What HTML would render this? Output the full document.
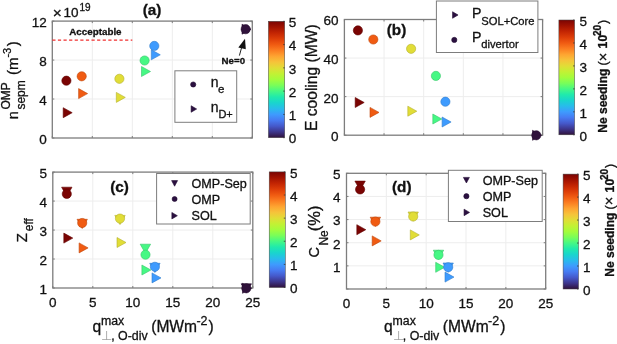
<!DOCTYPE html>
<html><head><meta charset="utf-8"><style>
html,body{margin:0;padding:0;background:#fff;width:617px;height:344px;overflow:hidden}
svg{display:block;will-change:transform}
text{font-family:"Liberation Sans", sans-serif;stroke:#111;stroke-width:0.3px}
</style></head><body>
<svg width="617" height="344" viewBox="0 0 617 344">
<rect width="617" height="344" fill="#fff"/>
<line x1="92.30" y1="21.1" x2="92.30" y2="138.0" stroke="#ededed" stroke-width="1"/>
<line x1="132.30" y1="21.1" x2="132.30" y2="138.0" stroke="#ededed" stroke-width="1"/>
<line x1="172.30" y1="21.1" x2="172.30" y2="138.0" stroke="#ededed" stroke-width="1"/>
<line x1="212.30" y1="21.1" x2="212.30" y2="138.0" stroke="#ededed" stroke-width="1"/>
<line x1="52.3" y1="99.03" x2="252.3" y2="99.03" stroke="#ededed" stroke-width="1"/>
<line x1="52.3" y1="60.07" x2="252.3" y2="60.07" stroke="#ededed" stroke-width="1"/>
<rect x="52.3" y="21.1" width="200.00" height="116.90" fill="none" stroke="#7d7d7d" stroke-width="1.3"/>
<line x1="52.30" y1="138.0" x2="52.30" y2="136.0" stroke="#7d7d7d" stroke-width="1"/>
<line x1="52.30" y1="21.1" x2="52.30" y2="23.1" stroke="#7d7d7d" stroke-width="1"/>
<line x1="92.30" y1="138.0" x2="92.30" y2="136.0" stroke="#7d7d7d" stroke-width="1"/>
<line x1="92.30" y1="21.1" x2="92.30" y2="23.1" stroke="#7d7d7d" stroke-width="1"/>
<line x1="132.30" y1="138.0" x2="132.30" y2="136.0" stroke="#7d7d7d" stroke-width="1"/>
<line x1="132.30" y1="21.1" x2="132.30" y2="23.1" stroke="#7d7d7d" stroke-width="1"/>
<line x1="172.30" y1="138.0" x2="172.30" y2="136.0" stroke="#7d7d7d" stroke-width="1"/>
<line x1="172.30" y1="21.1" x2="172.30" y2="23.1" stroke="#7d7d7d" stroke-width="1"/>
<line x1="212.30" y1="138.0" x2="212.30" y2="136.0" stroke="#7d7d7d" stroke-width="1"/>
<line x1="212.30" y1="21.1" x2="212.30" y2="23.1" stroke="#7d7d7d" stroke-width="1"/>
<line x1="252.30" y1="138.0" x2="252.30" y2="136.0" stroke="#7d7d7d" stroke-width="1"/>
<line x1="252.30" y1="21.1" x2="252.30" y2="23.1" stroke="#7d7d7d" stroke-width="1"/>
<line x1="52.3" y1="138.00" x2="54.3" y2="138.00" stroke="#7d7d7d" stroke-width="1"/>
<line x1="252.3" y1="138.00" x2="250.3" y2="138.00" stroke="#7d7d7d" stroke-width="1"/>
<line x1="52.3" y1="99.03" x2="54.3" y2="99.03" stroke="#7d7d7d" stroke-width="1"/>
<line x1="252.3" y1="99.03" x2="250.3" y2="99.03" stroke="#7d7d7d" stroke-width="1"/>
<line x1="52.3" y1="60.07" x2="54.3" y2="60.07" stroke="#7d7d7d" stroke-width="1"/>
<line x1="252.3" y1="60.07" x2="250.3" y2="60.07" stroke="#7d7d7d" stroke-width="1"/>
<line x1="52.3" y1="21.10" x2="54.3" y2="21.10" stroke="#7d7d7d" stroke-width="1"/>
<line x1="252.3" y1="21.10" x2="250.3" y2="21.10" stroke="#7d7d7d" stroke-width="1"/>
<text x="46.80" y="143.90" font-size="13.5" text-anchor="end" font-weight="normal" fill="#111111" >0</text>
<text x="46.80" y="104.93" font-size="13.5" text-anchor="end" font-weight="normal" fill="#111111" >4</text>
<text x="46.80" y="65.97" font-size="13.5" text-anchor="end" font-weight="normal" fill="#111111" >8</text>
<text x="46.80" y="27.00" font-size="13.5" text-anchor="end" font-weight="normal" fill="#111111" >12</text>
<line x1="52.3" y1="40.1" x2="132.3" y2="40.1" stroke="#f03030" stroke-width="1.1" stroke-dasharray="3.2,2.4"/>
<text x="69.30" y="34.60" font-size="9.8" text-anchor="start" font-weight="bold" fill="#111111" >Acceptable</text>
<polygon points="63.20,107.70 72.20,112.70 63.20,117.70" fill="#7a0403" stroke="#610302" stroke-width="0.6" stroke-linejoin="miter"/>
<polygon points="78.60,88.60 87.60,93.60 78.60,98.60" fill="#f05b12" stroke="#c0480e" stroke-width="0.6" stroke-linejoin="miter"/>
<polygon points="116.30,92.40 125.30,97.40 116.30,102.40" fill="#e1dd37" stroke="#b4b02c" stroke-width="0.6" stroke-linejoin="miter"/>
<polygon points="141.50,66.50 150.50,71.50 141.50,76.50" fill="#46f884" stroke="#38c669" stroke-width="0.6" stroke-linejoin="miter"/>
<polygon points="151.30,49.80 160.30,54.80 151.30,59.80" fill="#3e9bfe" stroke="#317ccb" stroke-width="0.6" stroke-linejoin="miter"/>
<polygon points="242.00,24.20 251.00,29.20 242.00,34.20" fill="#30123b" stroke="#260e2f" stroke-width="0.6" stroke-linejoin="miter"/>
<circle cx="66.40" cy="80.70" r="4.6" fill="#7a0403" stroke="#610302" stroke-width="0.6"/>
<circle cx="81.70" cy="76.30" r="4.6" fill="#f05b12" stroke="#c0480e" stroke-width="0.6"/>
<circle cx="119.40" cy="78.80" r="4.6" fill="#e1dd37" stroke="#b4b02c" stroke-width="0.6"/>
<circle cx="144.60" cy="60.50" r="4.6" fill="#46f884" stroke="#38c669" stroke-width="0.6"/>
<circle cx="154.30" cy="45.90" r="4.6" fill="#3e9bfe" stroke="#317ccb" stroke-width="0.6"/>
<circle cx="245.70" cy="29.20" r="4.6" fill="#30123b" stroke="#260e2f" stroke-width="0.6"/>
<line x1="239.4" y1="55.6" x2="242.3" y2="45" stroke="#222" stroke-width="1"/>
<polygon points="238.3,47.4 245,38.7 245.8,49.2" fill="#111"/>
<text x="221.60" y="64.20" font-size="9.7" text-anchor="start" font-weight="bold" fill="#111111" >Ne=0</text>
<rect x="174.9" y="70.8" width="61.80" height="51.50" fill="#fff" stroke="#7d7d7d" stroke-width="1.0"/>
<circle cx="193.20" cy="84.50" r="2.6" fill="#2b1040" stroke="#220c33" stroke-width="0.6"/>
<polygon points="191.15,105.75 196.65,109.00 191.15,112.25" fill="#2b1040" stroke="#220c33" stroke-width="0.6" stroke-linejoin="miter"/>
<text x="210.80" y="87.00" font-size="14" text-anchor="start" font-weight="normal" fill="#111111" >n</text>
<text x="218.00" y="93.40" font-size="11.5" text-anchor="start" font-weight="normal" fill="#111111" >e</text>
<text x="210.80" y="111.50" font-size="14" text-anchor="start" font-weight="normal" fill="#111111" >n</text>
<text x="218.40" y="118.20" font-size="11" text-anchor="start" font-weight="normal" fill="#111111" >D+</text>
<text x="152.10" y="14.90" font-size="15.3" text-anchor="middle" font-weight="bold" fill="#111111" >(a)</text>
<text x="52.80" y="18.20" font-size="15.5" text-anchor="start" font-weight="normal" fill="#111111" >×</text>
<text x="63.60" y="17.20" font-size="13.5" text-anchor="start" font-weight="normal" fill="#111111" >10</text>
<text x="79.40" y="10.60" font-size="10" text-anchor="start" font-weight="normal" fill="#111111" >19</text>
<text transform="translate(18.4,119.3) rotate(-90)" font-size="14.5" fill="#111111">n</text>
<text transform="translate(24.6,109.6) rotate(-90)" font-size="12" fill="#111111">sepm</text>
<text transform="translate(10.4,109.6) rotate(-90)" font-size="12" fill="#111111">OMP</text>
<text transform="translate(18.4,75.0) rotate(-90)" font-size="15" fill="#111111">(m</text>
<text transform="translate(10.6,57.6) rotate(-90)" font-size="11" fill="#111111">-3</text>
<text transform="translate(18.4,46.2) rotate(-90)" font-size="15" fill="#111111">)</text>
<defs><linearGradient id="g65" x1="0" y1="0" x2="0" y2="1"><stop offset="0.000" stop-color="#7a0403"/><stop offset="0.050" stop-color="#a11201"/><stop offset="0.100" stop-color="#c32503"/><stop offset="0.150" stop-color="#dd3d08"/><stop offset="0.200" stop-color="#f05b12"/><stop offset="0.250" stop-color="#fb7e21"/><stop offset="0.300" stop-color="#fea431"/><stop offset="0.350" stop-color="#f6c33a"/><stop offset="0.400" stop-color="#e1dd37"/><stop offset="0.450" stop-color="#c3f134"/><stop offset="0.500" stop-color="#a4fc3c"/><stop offset="0.550" stop-color="#79fe59"/><stop offset="0.600" stop-color="#46f884"/><stop offset="0.650" stop-color="#20eaac"/><stop offset="0.700" stop-color="#19d5cd"/><stop offset="0.750" stop-color="#28bceb"/><stop offset="0.800" stop-color="#3e9bfe"/><stop offset="0.850" stop-color="#477bf2"/><stop offset="0.900" stop-color="#4559cb"/><stop offset="0.950" stop-color="#3d358b"/><stop offset="1.000" stop-color="#30123b"/></linearGradient></defs>
<rect x="268.4" y="21.3" width="16.30" height="116.40" fill="url(#g65)" stroke="#444" stroke-width="0.5"/>
<line x1="284.7" y1="137.70" x2="283.2" y2="137.70" stroke="#333" stroke-width="0.8"/>
<text x="288.80" y="143.40" font-size="13.5" text-anchor="start" font-weight="normal" fill="#111111" >0</text>
<line x1="284.7" y1="114.42" x2="283.2" y2="114.42" stroke="#333" stroke-width="0.8"/>
<text x="288.80" y="120.12" font-size="13.5" text-anchor="start" font-weight="normal" fill="#111111" >1</text>
<line x1="284.7" y1="91.14" x2="283.2" y2="91.14" stroke="#333" stroke-width="0.8"/>
<text x="288.80" y="96.84" font-size="13.5" text-anchor="start" font-weight="normal" fill="#111111" >2</text>
<line x1="284.7" y1="67.86" x2="283.2" y2="67.86" stroke="#333" stroke-width="0.8"/>
<text x="288.80" y="73.56" font-size="13.5" text-anchor="start" font-weight="normal" fill="#111111" >3</text>
<line x1="284.7" y1="44.58" x2="283.2" y2="44.58" stroke="#333" stroke-width="0.8"/>
<text x="288.80" y="50.28" font-size="13.5" text-anchor="start" font-weight="normal" fill="#111111" >4</text>
<line x1="284.7" y1="21.30" x2="283.2" y2="21.30" stroke="#333" stroke-width="0.8"/>
<text x="288.80" y="27.00" font-size="13.5" text-anchor="start" font-weight="normal" fill="#111111" >5</text>
<line x1="384.04" y1="19.5" x2="384.04" y2="135.2" stroke="#ededed" stroke-width="1"/>
<line x1="423.68" y1="19.5" x2="423.68" y2="135.2" stroke="#ededed" stroke-width="1"/>
<line x1="463.32" y1="19.5" x2="463.32" y2="135.2" stroke="#ededed" stroke-width="1"/>
<line x1="502.96" y1="19.5" x2="502.96" y2="135.2" stroke="#ededed" stroke-width="1"/>
<line x1="344.4" y1="96.63" x2="542.6" y2="96.63" stroke="#ededed" stroke-width="1"/>
<line x1="344.4" y1="58.07" x2="542.6" y2="58.07" stroke="#ededed" stroke-width="1"/>
<rect x="344.4" y="19.5" width="198.20" height="115.70" fill="none" stroke="#7d7d7d" stroke-width="1.3"/>
<line x1="344.40" y1="135.2" x2="344.40" y2="133.2" stroke="#7d7d7d" stroke-width="1"/>
<line x1="344.40" y1="19.5" x2="344.40" y2="21.5" stroke="#7d7d7d" stroke-width="1"/>
<line x1="384.04" y1="135.2" x2="384.04" y2="133.2" stroke="#7d7d7d" stroke-width="1"/>
<line x1="384.04" y1="19.5" x2="384.04" y2="21.5" stroke="#7d7d7d" stroke-width="1"/>
<line x1="423.68" y1="135.2" x2="423.68" y2="133.2" stroke="#7d7d7d" stroke-width="1"/>
<line x1="423.68" y1="19.5" x2="423.68" y2="21.5" stroke="#7d7d7d" stroke-width="1"/>
<line x1="463.32" y1="135.2" x2="463.32" y2="133.2" stroke="#7d7d7d" stroke-width="1"/>
<line x1="463.32" y1="19.5" x2="463.32" y2="21.5" stroke="#7d7d7d" stroke-width="1"/>
<line x1="502.96" y1="135.2" x2="502.96" y2="133.2" stroke="#7d7d7d" stroke-width="1"/>
<line x1="502.96" y1="19.5" x2="502.96" y2="21.5" stroke="#7d7d7d" stroke-width="1"/>
<line x1="542.60" y1="135.2" x2="542.60" y2="133.2" stroke="#7d7d7d" stroke-width="1"/>
<line x1="542.60" y1="19.5" x2="542.60" y2="21.5" stroke="#7d7d7d" stroke-width="1"/>
<line x1="344.4" y1="135.20" x2="346.4" y2="135.20" stroke="#7d7d7d" stroke-width="1"/>
<line x1="542.6" y1="135.20" x2="540.6" y2="135.20" stroke="#7d7d7d" stroke-width="1"/>
<line x1="344.4" y1="96.63" x2="346.4" y2="96.63" stroke="#7d7d7d" stroke-width="1"/>
<line x1="542.6" y1="96.63" x2="540.6" y2="96.63" stroke="#7d7d7d" stroke-width="1"/>
<line x1="344.4" y1="58.07" x2="346.4" y2="58.07" stroke="#7d7d7d" stroke-width="1"/>
<line x1="542.6" y1="58.07" x2="540.6" y2="58.07" stroke="#7d7d7d" stroke-width="1"/>
<line x1="344.4" y1="19.50" x2="346.4" y2="19.50" stroke="#7d7d7d" stroke-width="1"/>
<line x1="542.6" y1="19.50" x2="540.6" y2="19.50" stroke="#7d7d7d" stroke-width="1"/>
<text x="338.60" y="141.10" font-size="13.5" text-anchor="end" font-weight="normal" fill="#111111" >0</text>
<text x="338.60" y="102.53" font-size="13.5" text-anchor="end" font-weight="normal" fill="#111111" >20</text>
<text x="338.60" y="63.97" font-size="13.5" text-anchor="end" font-weight="normal" fill="#111111" >40</text>
<text x="338.60" y="25.40" font-size="13.5" text-anchor="end" font-weight="normal" fill="#111111" >60</text>
<polygon points="355.20,97.50 364.20,102.50 355.20,107.50" fill="#7a0403" stroke="#610302" stroke-width="0.6" stroke-linejoin="miter"/>
<polygon points="370.00,107.40 379.00,112.40 370.00,117.40" fill="#f05b12" stroke="#c0480e" stroke-width="0.6" stroke-linejoin="miter"/>
<polygon points="407.80,106.20 416.80,111.20 407.80,116.20" fill="#e1dd37" stroke="#b4b02c" stroke-width="0.6" stroke-linejoin="miter"/>
<polygon points="432.80,114.00 441.80,119.00 432.80,124.00" fill="#46f884" stroke="#38c669" stroke-width="0.6" stroke-linejoin="miter"/>
<polygon points="442.10,117.00 451.10,122.00 442.10,127.00" fill="#3e9bfe" stroke="#317ccb" stroke-width="0.6" stroke-linejoin="miter"/>
<polygon points="532.50,130.30 541.50,135.30 532.50,140.30" fill="#30123b" stroke="#260e2f" stroke-width="0.6" stroke-linejoin="miter"/>
<circle cx="357.90" cy="30.40" r="4.6" fill="#7a0403" stroke="#610302" stroke-width="0.6"/>
<circle cx="373.30" cy="39.50" r="4.6" fill="#f05b12" stroke="#c0480e" stroke-width="0.6"/>
<circle cx="411.10" cy="48.80" r="4.6" fill="#e1dd37" stroke="#b4b02c" stroke-width="0.6"/>
<circle cx="435.90" cy="75.90" r="4.6" fill="#46f884" stroke="#38c669" stroke-width="0.6"/>
<circle cx="445.40" cy="101.70" r="4.6" fill="#3e9bfe" stroke="#317ccb" stroke-width="0.6"/>
<circle cx="536.30" cy="135.30" r="4.6" fill="#30123b" stroke="#260e2f" stroke-width="0.6"/>
<text x="396.50" y="35.30" font-size="15.3" text-anchor="middle" font-weight="bold" fill="#111111" >(b)</text>
<rect x="436.4" y="1.0" width="101.50" height="51.50" fill="#fff" stroke="#7d7d7d" stroke-width="1.0"/>
<polygon points="452.55,11.75 458.05,15.00 452.55,18.25" fill="#2b1040" stroke="#220c33" stroke-width="0.6" stroke-linejoin="miter"/>
<circle cx="454.30" cy="39.90" r="2.6" fill="#2b1040" stroke="#220c33" stroke-width="0.6"/>
<text x="472.00" y="17.90" font-size="14.2" text-anchor="start" font-weight="normal" fill="#111111" >P</text>
<text x="481.30" y="24.90" font-size="11.2" text-anchor="start" font-weight="normal" fill="#111111" >SOL+Core</text>
<text x="472.00" y="41.80" font-size="14.2" text-anchor="start" font-weight="normal" fill="#111111" >P</text>
<text x="481.30" y="48.20" font-size="11.2" text-anchor="start" font-weight="normal" fill="#111111" >divertor</text>
<text transform="translate(316.9,131.0) rotate(-90)" font-size="15.6" fill="#111111">E cooling (MW)</text>
<defs><linearGradient id="g131" x1="0" y1="0" x2="0" y2="1"><stop offset="0.000" stop-color="#7a0403"/><stop offset="0.050" stop-color="#a11201"/><stop offset="0.100" stop-color="#c32503"/><stop offset="0.150" stop-color="#dd3d08"/><stop offset="0.200" stop-color="#f05b12"/><stop offset="0.250" stop-color="#fb7e21"/><stop offset="0.300" stop-color="#fea431"/><stop offset="0.350" stop-color="#f6c33a"/><stop offset="0.400" stop-color="#e1dd37"/><stop offset="0.450" stop-color="#c3f134"/><stop offset="0.500" stop-color="#a4fc3c"/><stop offset="0.550" stop-color="#79fe59"/><stop offset="0.600" stop-color="#46f884"/><stop offset="0.650" stop-color="#20eaac"/><stop offset="0.700" stop-color="#19d5cd"/><stop offset="0.750" stop-color="#28bceb"/><stop offset="0.800" stop-color="#3e9bfe"/><stop offset="0.850" stop-color="#477bf2"/><stop offset="0.900" stop-color="#4559cb"/><stop offset="0.950" stop-color="#3d358b"/><stop offset="1.000" stop-color="#30123b"/></linearGradient></defs>
<rect x="558.9" y="20.0" width="15.70" height="114.80" fill="url(#g131)" stroke="#444" stroke-width="0.5"/>
<line x1="574.6" y1="134.80" x2="573.1" y2="134.80" stroke="#333" stroke-width="0.8"/>
<text x="579.50" y="140.50" font-size="13.5" text-anchor="start" font-weight="normal" fill="#111111" >0</text>
<line x1="574.6" y1="111.84" x2="573.1" y2="111.84" stroke="#333" stroke-width="0.8"/>
<text x="579.50" y="117.54" font-size="13.5" text-anchor="start" font-weight="normal" fill="#111111" >1</text>
<line x1="574.6" y1="88.88" x2="573.1" y2="88.88" stroke="#333" stroke-width="0.8"/>
<text x="579.50" y="94.58" font-size="13.5" text-anchor="start" font-weight="normal" fill="#111111" >2</text>
<line x1="574.6" y1="65.92" x2="573.1" y2="65.92" stroke="#333" stroke-width="0.8"/>
<text x="579.50" y="71.62" font-size="13.5" text-anchor="start" font-weight="normal" fill="#111111" >3</text>
<line x1="574.6" y1="42.96" x2="573.1" y2="42.96" stroke="#333" stroke-width="0.8"/>
<text x="579.50" y="48.66" font-size="13.5" text-anchor="start" font-weight="normal" fill="#111111" >4</text>
<line x1="574.6" y1="20.00" x2="573.1" y2="20.00" stroke="#333" stroke-width="0.8"/>
<text x="579.50" y="25.70" font-size="13.5" text-anchor="start" font-weight="normal" fill="#111111" >5</text>
<text transform="translate(607.30,132.70) rotate(-90)" font-size="12.0" font-weight="bold" fill="#111111">Ne seeding</text>
<text transform="translate(607.30,65.40) rotate(-90)" font-size="12.5" font-weight="normal" fill="#111111">(</text>
<text transform="translate(607.60,61.20) rotate(-90)" font-size="14.5" font-weight="normal" fill="#111111">×</text>
<text transform="translate(607.30,48.40) rotate(-90)" font-size="12.2" font-weight="bold" fill="#111111">10</text>
<text transform="translate(601.30,36.00) rotate(-90)" font-size="10" font-weight="bold" fill="#111111">20</text>
<text transform="translate(607.30,24.00) rotate(-90)" font-size="12.5" font-weight="normal" fill="#111111">)</text>
<line x1="92.80" y1="172.1" x2="92.80" y2="288.0" stroke="#ededed" stroke-width="1"/>
<line x1="132.80" y1="172.1" x2="132.80" y2="288.0" stroke="#ededed" stroke-width="1"/>
<line x1="172.80" y1="172.1" x2="172.80" y2="288.0" stroke="#ededed" stroke-width="1"/>
<line x1="212.80" y1="172.1" x2="212.80" y2="288.0" stroke="#ededed" stroke-width="1"/>
<line x1="52.8" y1="259.02" x2="252.8" y2="259.02" stroke="#ededed" stroke-width="1"/>
<line x1="52.8" y1="230.05" x2="252.8" y2="230.05" stroke="#ededed" stroke-width="1"/>
<line x1="52.8" y1="201.07" x2="252.8" y2="201.07" stroke="#ededed" stroke-width="1"/>
<rect x="52.8" y="172.1" width="200.00" height="115.90" fill="none" stroke="#7d7d7d" stroke-width="1.3"/>
<line x1="52.80" y1="288.0" x2="52.80" y2="286.0" stroke="#7d7d7d" stroke-width="1"/>
<line x1="52.80" y1="172.1" x2="52.80" y2="174.1" stroke="#7d7d7d" stroke-width="1"/>
<text x="52.80" y="307.20" font-size="13.5" text-anchor="middle" font-weight="normal" fill="#111111" >0</text>
<line x1="92.80" y1="288.0" x2="92.80" y2="286.0" stroke="#7d7d7d" stroke-width="1"/>
<line x1="92.80" y1="172.1" x2="92.80" y2="174.1" stroke="#7d7d7d" stroke-width="1"/>
<text x="92.80" y="307.20" font-size="13.5" text-anchor="middle" font-weight="normal" fill="#111111" >5</text>
<line x1="132.80" y1="288.0" x2="132.80" y2="286.0" stroke="#7d7d7d" stroke-width="1"/>
<line x1="132.80" y1="172.1" x2="132.80" y2="174.1" stroke="#7d7d7d" stroke-width="1"/>
<text x="132.80" y="307.20" font-size="13.5" text-anchor="middle" font-weight="normal" fill="#111111" >10</text>
<line x1="172.80" y1="288.0" x2="172.80" y2="286.0" stroke="#7d7d7d" stroke-width="1"/>
<line x1="172.80" y1="172.1" x2="172.80" y2="174.1" stroke="#7d7d7d" stroke-width="1"/>
<text x="172.80" y="307.20" font-size="13.5" text-anchor="middle" font-weight="normal" fill="#111111" >15</text>
<line x1="212.80" y1="288.0" x2="212.80" y2="286.0" stroke="#7d7d7d" stroke-width="1"/>
<line x1="212.80" y1="172.1" x2="212.80" y2="174.1" stroke="#7d7d7d" stroke-width="1"/>
<text x="212.80" y="307.20" font-size="13.5" text-anchor="middle" font-weight="normal" fill="#111111" >20</text>
<line x1="252.80" y1="288.0" x2="252.80" y2="286.0" stroke="#7d7d7d" stroke-width="1"/>
<line x1="252.80" y1="172.1" x2="252.80" y2="174.1" stroke="#7d7d7d" stroke-width="1"/>
<text x="252.80" y="307.20" font-size="13.5" text-anchor="middle" font-weight="normal" fill="#111111" >25</text>
<line x1="52.8" y1="288.00" x2="54.8" y2="288.00" stroke="#7d7d7d" stroke-width="1"/>
<line x1="252.8" y1="288.00" x2="250.8" y2="288.00" stroke="#7d7d7d" stroke-width="1"/>
<line x1="52.8" y1="259.02" x2="54.8" y2="259.02" stroke="#7d7d7d" stroke-width="1"/>
<line x1="252.8" y1="259.02" x2="250.8" y2="259.02" stroke="#7d7d7d" stroke-width="1"/>
<line x1="52.8" y1="230.05" x2="54.8" y2="230.05" stroke="#7d7d7d" stroke-width="1"/>
<line x1="252.8" y1="230.05" x2="250.8" y2="230.05" stroke="#7d7d7d" stroke-width="1"/>
<line x1="52.8" y1="201.07" x2="54.8" y2="201.07" stroke="#7d7d7d" stroke-width="1"/>
<line x1="252.8" y1="201.07" x2="250.8" y2="201.07" stroke="#7d7d7d" stroke-width="1"/>
<line x1="52.8" y1="172.10" x2="54.8" y2="172.10" stroke="#7d7d7d" stroke-width="1"/>
<line x1="252.8" y1="172.10" x2="250.8" y2="172.10" stroke="#7d7d7d" stroke-width="1"/>
<text x="47.00" y="293.90" font-size="13.5" text-anchor="end" font-weight="normal" fill="#111111" >1</text>
<text x="47.00" y="264.92" font-size="13.5" text-anchor="end" font-weight="normal" fill="#111111" >2</text>
<text x="47.00" y="235.95" font-size="13.5" text-anchor="end" font-weight="normal" fill="#111111" >3</text>
<text x="47.00" y="206.97" font-size="13.5" text-anchor="end" font-weight="normal" fill="#111111" >4</text>
<text x="47.00" y="178.00" font-size="13.5" text-anchor="end" font-weight="normal" fill="#111111" >5</text>
<polygon points="61.60,187.20 72.00,187.20 66.80,196.40" fill="#7a0403" stroke="#610302" stroke-width="0.6"/>
<polygon points="77.00,219.30 87.40,219.30 82.20,228.50" fill="#f05b12" stroke="#c0480e" stroke-width="0.6"/>
<polygon points="114.80,215.40 125.20,215.40 120.00,224.60" fill="#e1dd37" stroke="#b4b02c" stroke-width="0.6"/>
<polygon points="140.20,244.20 150.60,244.20 145.40,253.40" fill="#46f884" stroke="#38c669" stroke-width="0.6"/>
<polygon points="149.70,263.30 160.10,263.30 154.90,272.50" fill="#3e9bfe" stroke="#317ccb" stroke-width="0.6"/>
<polygon points="241.10,283.80 251.50,283.80 246.30,293.00" fill="#30123b" stroke="#260e2f" stroke-width="0.6"/>
<polygon points="63.80,233.10 72.80,238.10 63.80,243.10" fill="#7a0403" stroke="#610302" stroke-width="0.6" stroke-linejoin="miter"/>
<polygon points="79.10,242.90 88.10,247.90 79.10,252.90" fill="#f05b12" stroke="#c0480e" stroke-width="0.6" stroke-linejoin="miter"/>
<polygon points="117.00,237.50 126.00,242.50 117.00,247.50" fill="#e1dd37" stroke="#b4b02c" stroke-width="0.6" stroke-linejoin="miter"/>
<polygon points="141.90,265.00 150.90,270.00 141.90,275.00" fill="#46f884" stroke="#38c669" stroke-width="0.6" stroke-linejoin="miter"/>
<polygon points="152.00,272.90 161.00,277.90 152.00,282.90" fill="#3e9bfe" stroke="#317ccb" stroke-width="0.6" stroke-linejoin="miter"/>
<polygon points="242.50,283.30 251.50,288.30 242.50,293.30" fill="#30123b" stroke="#260e2f" stroke-width="0.6" stroke-linejoin="miter"/>
<circle cx="66.80" cy="193.90" r="4.6" fill="#7a0403" stroke="#610302" stroke-width="0.6"/>
<circle cx="82.20" cy="223.00" r="4.6" fill="#f05b12" stroke="#c0480e" stroke-width="0.6"/>
<circle cx="120.00" cy="218.60" r="4.6" fill="#e1dd37" stroke="#b4b02c" stroke-width="0.6"/>
<circle cx="145.50" cy="254.70" r="4.6" fill="#46f884" stroke="#38c669" stroke-width="0.6"/>
<circle cx="154.90" cy="266.80" r="4.6" fill="#3e9bfe" stroke="#317ccb" stroke-width="0.6"/>
<circle cx="246.30" cy="288.30" r="4.6" fill="#30123b" stroke="#260e2f" stroke-width="0.6"/>
<text x="119.50" y="192.00" font-size="15.3" text-anchor="middle" font-weight="bold" fill="#111111" >(c)</text>
<rect x="156.6" y="173.5" width="93.60" height="50.50" fill="#fff" stroke="#7d7d7d" stroke-width="1.0"/>
<polygon points="171.60,180.60 177.60,180.60 174.60,186.20" fill="#2b1040" stroke="#220c33" stroke-width="0.6"/>
<circle cx="174.60" cy="199.00" r="2.5" fill="#2b1040" stroke="#220c33" stroke-width="0.6"/>
<polygon points="171.85,212.45 177.35,215.70 171.85,218.95" fill="#2b1040" stroke="#220c33" stroke-width="0.6" stroke-linejoin="miter"/>
<text x="191.50" y="187.90" font-size="12.6" text-anchor="start" font-weight="normal" fill="#111111" >OMP-Sep</text>
<text x="191.50" y="203.80" font-size="12.6" text-anchor="start" font-weight="normal" fill="#111111" >OMP</text>
<text x="191.50" y="220.40" font-size="12.6" text-anchor="start" font-weight="normal" fill="#111111" >SOL</text>
<text transform="translate(26.6,242.3) rotate(-90)" font-size="15" fill="#111111">Z</text>
<text transform="translate(33.2,231.2) rotate(-90)" font-size="12" fill="#111111">eff</text>
<defs><linearGradient id="g220" x1="0" y1="0" x2="0" y2="1"><stop offset="0.000" stop-color="#7a0403"/><stop offset="0.050" stop-color="#a11201"/><stop offset="0.100" stop-color="#c32503"/><stop offset="0.150" stop-color="#dd3d08"/><stop offset="0.200" stop-color="#f05b12"/><stop offset="0.250" stop-color="#fb7e21"/><stop offset="0.300" stop-color="#fea431"/><stop offset="0.350" stop-color="#f6c33a"/><stop offset="0.400" stop-color="#e1dd37"/><stop offset="0.450" stop-color="#c3f134"/><stop offset="0.500" stop-color="#a4fc3c"/><stop offset="0.550" stop-color="#79fe59"/><stop offset="0.600" stop-color="#46f884"/><stop offset="0.650" stop-color="#20eaac"/><stop offset="0.700" stop-color="#19d5cd"/><stop offset="0.750" stop-color="#28bceb"/><stop offset="0.800" stop-color="#3e9bfe"/><stop offset="0.850" stop-color="#477bf2"/><stop offset="0.900" stop-color="#4559cb"/><stop offset="0.950" stop-color="#3d358b"/><stop offset="1.000" stop-color="#30123b"/></linearGradient></defs>
<rect x="269.2" y="171.9" width="16.10" height="115.60" fill="url(#g220)" stroke="#444" stroke-width="0.5"/>
<line x1="285.3" y1="287.50" x2="283.8" y2="287.50" stroke="#333" stroke-width="0.8"/>
<text x="290.10" y="293.20" font-size="13.5" text-anchor="start" font-weight="normal" fill="#111111" >0</text>
<line x1="285.3" y1="264.38" x2="283.8" y2="264.38" stroke="#333" stroke-width="0.8"/>
<text x="290.10" y="270.08" font-size="13.5" text-anchor="start" font-weight="normal" fill="#111111" >1</text>
<line x1="285.3" y1="241.26" x2="283.8" y2="241.26" stroke="#333" stroke-width="0.8"/>
<text x="290.10" y="246.96" font-size="13.5" text-anchor="start" font-weight="normal" fill="#111111" >2</text>
<line x1="285.3" y1="218.14" x2="283.8" y2="218.14" stroke="#333" stroke-width="0.8"/>
<text x="290.10" y="223.84" font-size="13.5" text-anchor="start" font-weight="normal" fill="#111111" >3</text>
<line x1="285.3" y1="195.02" x2="283.8" y2="195.02" stroke="#333" stroke-width="0.8"/>
<text x="290.10" y="200.72" font-size="13.5" text-anchor="start" font-weight="normal" fill="#111111" >4</text>
<line x1="285.3" y1="171.90" x2="283.8" y2="171.90" stroke="#333" stroke-width="0.8"/>
<text x="290.10" y="177.60" font-size="13.5" text-anchor="start" font-weight="normal" fill="#111111" >5</text>
<text x="92.40" y="331.50" font-size="15.6" text-anchor="start" font-weight="normal" fill="#111111" >q</text>
<text x="101.00" y="325.10" font-size="12.3" text-anchor="start" font-weight="normal" fill="#111111" >max</text>
<text x="101.00" y="339.80" font-size="13" text-anchor="start" font-weight="normal" fill="#a0a0a0" style="stroke:none">⊥</text>
<text x="111.20" y="340.00" font-size="12.4" text-anchor="start" font-weight="normal" fill="#111111" >, O-div</text>
<text x="151.20" y="332.00" font-size="15.6" text-anchor="start" font-weight="normal" fill="#111111" >(MWm</text>
<text x="196.40" y="324.70" font-size="12.5" text-anchor="start" font-weight="normal" fill="#111111" >-2</text>
<text x="208.60" y="332.00" font-size="15.6" text-anchor="start" font-weight="normal" fill="#111111" >)</text>
<line x1="386.34" y1="173.3" x2="386.34" y2="289.0" stroke="#ededed" stroke-width="1"/>
<line x1="426.18" y1="173.3" x2="426.18" y2="289.0" stroke="#ededed" stroke-width="1"/>
<line x1="466.02" y1="173.3" x2="466.02" y2="289.0" stroke="#ededed" stroke-width="1"/>
<line x1="505.86" y1="173.3" x2="505.86" y2="289.0" stroke="#ededed" stroke-width="1"/>
<line x1="346.5" y1="265.86" x2="545.7" y2="265.86" stroke="#ededed" stroke-width="1"/>
<line x1="346.5" y1="242.72" x2="545.7" y2="242.72" stroke="#ededed" stroke-width="1"/>
<line x1="346.5" y1="219.58" x2="545.7" y2="219.58" stroke="#ededed" stroke-width="1"/>
<line x1="346.5" y1="196.44" x2="545.7" y2="196.44" stroke="#ededed" stroke-width="1"/>
<rect x="346.5" y="173.3" width="199.20" height="115.70" fill="none" stroke="#7d7d7d" stroke-width="1.3"/>
<line x1="346.50" y1="289.0" x2="346.50" y2="287.0" stroke="#7d7d7d" stroke-width="1"/>
<line x1="346.50" y1="173.3" x2="346.50" y2="175.3" stroke="#7d7d7d" stroke-width="1"/>
<text x="346.50" y="308.20" font-size="13.5" text-anchor="middle" font-weight="normal" fill="#111111" >0</text>
<line x1="386.34" y1="289.0" x2="386.34" y2="287.0" stroke="#7d7d7d" stroke-width="1"/>
<line x1="386.34" y1="173.3" x2="386.34" y2="175.3" stroke="#7d7d7d" stroke-width="1"/>
<text x="386.34" y="308.20" font-size="13.5" text-anchor="middle" font-weight="normal" fill="#111111" >5</text>
<line x1="426.18" y1="289.0" x2="426.18" y2="287.0" stroke="#7d7d7d" stroke-width="1"/>
<line x1="426.18" y1="173.3" x2="426.18" y2="175.3" stroke="#7d7d7d" stroke-width="1"/>
<text x="426.18" y="308.20" font-size="13.5" text-anchor="middle" font-weight="normal" fill="#111111" >10</text>
<line x1="466.02" y1="289.0" x2="466.02" y2="287.0" stroke="#7d7d7d" stroke-width="1"/>
<line x1="466.02" y1="173.3" x2="466.02" y2="175.3" stroke="#7d7d7d" stroke-width="1"/>
<text x="466.02" y="308.20" font-size="13.5" text-anchor="middle" font-weight="normal" fill="#111111" >15</text>
<line x1="505.86" y1="289.0" x2="505.86" y2="287.0" stroke="#7d7d7d" stroke-width="1"/>
<line x1="505.86" y1="173.3" x2="505.86" y2="175.3" stroke="#7d7d7d" stroke-width="1"/>
<text x="505.86" y="308.20" font-size="13.5" text-anchor="middle" font-weight="normal" fill="#111111" >20</text>
<line x1="545.70" y1="289.0" x2="545.70" y2="287.0" stroke="#7d7d7d" stroke-width="1"/>
<line x1="545.70" y1="173.3" x2="545.70" y2="175.3" stroke="#7d7d7d" stroke-width="1"/>
<text x="545.70" y="308.20" font-size="13.5" text-anchor="middle" font-weight="normal" fill="#111111" >25</text>
<line x1="346.5" y1="289.00" x2="348.5" y2="289.00" stroke="#7d7d7d" stroke-width="1"/>
<line x1="545.7" y1="289.00" x2="543.7" y2="289.00" stroke="#7d7d7d" stroke-width="1"/>
<line x1="346.5" y1="265.86" x2="348.5" y2="265.86" stroke="#7d7d7d" stroke-width="1"/>
<line x1="545.7" y1="265.86" x2="543.7" y2="265.86" stroke="#7d7d7d" stroke-width="1"/>
<line x1="346.5" y1="242.72" x2="348.5" y2="242.72" stroke="#7d7d7d" stroke-width="1"/>
<line x1="545.7" y1="242.72" x2="543.7" y2="242.72" stroke="#7d7d7d" stroke-width="1"/>
<line x1="346.5" y1="219.58" x2="348.5" y2="219.58" stroke="#7d7d7d" stroke-width="1"/>
<line x1="545.7" y1="219.58" x2="543.7" y2="219.58" stroke="#7d7d7d" stroke-width="1"/>
<line x1="346.5" y1="196.44" x2="348.5" y2="196.44" stroke="#7d7d7d" stroke-width="1"/>
<line x1="545.7" y1="196.44" x2="543.7" y2="196.44" stroke="#7d7d7d" stroke-width="1"/>
<line x1="346.5" y1="173.30" x2="348.5" y2="173.30" stroke="#7d7d7d" stroke-width="1"/>
<line x1="545.7" y1="173.30" x2="543.7" y2="173.30" stroke="#7d7d7d" stroke-width="1"/>
<text x="340.60" y="271.76" font-size="13.5" text-anchor="end" font-weight="normal" fill="#111111" >1</text>
<text x="340.60" y="248.62" font-size="13.5" text-anchor="end" font-weight="normal" fill="#111111" >2</text>
<text x="340.60" y="225.48" font-size="13.5" text-anchor="end" font-weight="normal" fill="#111111" >3</text>
<text x="340.60" y="202.34" font-size="13.5" text-anchor="end" font-weight="normal" fill="#111111" >4</text>
<text x="340.60" y="179.20" font-size="13.5" text-anchor="end" font-weight="normal" fill="#111111" >5</text>
<polygon points="354.90,181.10 365.30,181.10 360.10,190.30" fill="#7a0403" stroke="#610302" stroke-width="0.6"/>
<polygon points="370.20,217.20 380.60,217.20 375.40,226.40" fill="#f05b12" stroke="#c0480e" stroke-width="0.6"/>
<polygon points="408.00,212.00 418.40,212.00 413.20,221.20" fill="#e1dd37" stroke="#b4b02c" stroke-width="0.6"/>
<polygon points="433.30,250.20 443.70,250.20 438.50,259.40" fill="#46f884" stroke="#38c669" stroke-width="0.6"/>
<polygon points="443.00,263.00 453.40,263.00 448.20,272.20" fill="#3e9bfe" stroke="#317ccb" stroke-width="0.6"/>
<polygon points="356.80,224.70 365.80,229.70 356.80,234.70" fill="#7a0403" stroke="#610302" stroke-width="0.6" stroke-linejoin="miter"/>
<polygon points="372.20,235.90 381.20,240.90 372.20,245.90" fill="#f05b12" stroke="#c0480e" stroke-width="0.6" stroke-linejoin="miter"/>
<polygon points="410.30,229.90 419.30,234.90 410.30,239.90" fill="#e1dd37" stroke="#b4b02c" stroke-width="0.6" stroke-linejoin="miter"/>
<polygon points="435.70,262.30 444.70,267.30 435.70,272.30" fill="#46f884" stroke="#38c669" stroke-width="0.6" stroke-linejoin="miter"/>
<polygon points="445.00,272.10 454.00,277.10 445.00,282.10" fill="#3e9bfe" stroke="#317ccb" stroke-width="0.6" stroke-linejoin="miter"/>
<circle cx="360.10" cy="189.40" r="4.6" fill="#7a0403" stroke="#610302" stroke-width="0.6"/>
<circle cx="375.40" cy="221.60" r="4.6" fill="#f05b12" stroke="#c0480e" stroke-width="0.6"/>
<circle cx="413.20" cy="216.50" r="4.6" fill="#e1dd37" stroke="#b4b02c" stroke-width="0.6"/>
<circle cx="438.50" cy="254.90" r="4.6" fill="#46f884" stroke="#38c669" stroke-width="0.6"/>
<circle cx="448.20" cy="267.30" r="4.6" fill="#3e9bfe" stroke="#317ccb" stroke-width="0.6"/>
<text x="401.80" y="191.50" font-size="15.3" text-anchor="middle" font-weight="bold" fill="#111111" >(d)</text>
<rect x="448.4" y="170.3" width="93.80" height="51.20" fill="#fff" stroke="#7d7d7d" stroke-width="1.0"/>
<polygon points="463.40,177.40 469.40,177.40 466.40,183.00" fill="#2b1040" stroke="#220c33" stroke-width="0.6"/>
<circle cx="466.40" cy="196.20" r="2.6" fill="#2b1040" stroke="#220c33" stroke-width="0.6"/>
<polygon points="464.05,209.15 469.55,212.40 464.05,215.65" fill="#2b1040" stroke="#220c33" stroke-width="0.6" stroke-linejoin="miter"/>
<text x="482.70" y="184.60" font-size="12.6" text-anchor="start" font-weight="normal" fill="#111111" >OMP-Sep</text>
<text x="482.70" y="200.60" font-size="12.6" text-anchor="start" font-weight="normal" fill="#111111" >OMP</text>
<text x="482.70" y="217.40" font-size="12.6" text-anchor="start" font-weight="normal" fill="#111111" >SOL</text>
<text transform="translate(318.9,257.6) rotate(-90)" font-size="14.5" fill="#111111">C</text>
<text transform="translate(327.8,245.6) rotate(-90)" font-size="12" fill="#111111">Ne</text>
<text transform="translate(320.4,231.2) rotate(-90)" font-size="16.5" fill="#111111">(%)</text>
<defs><linearGradient id="g311" x1="0" y1="0" x2="0" y2="1"><stop offset="0.000" stop-color="#7a0403"/><stop offset="0.050" stop-color="#a11201"/><stop offset="0.100" stop-color="#c32503"/><stop offset="0.150" stop-color="#dd3d08"/><stop offset="0.200" stop-color="#f05b12"/><stop offset="0.250" stop-color="#fb7e21"/><stop offset="0.300" stop-color="#fea431"/><stop offset="0.350" stop-color="#f6c33a"/><stop offset="0.400" stop-color="#e1dd37"/><stop offset="0.450" stop-color="#c3f134"/><stop offset="0.500" stop-color="#a4fc3c"/><stop offset="0.550" stop-color="#79fe59"/><stop offset="0.600" stop-color="#46f884"/><stop offset="0.650" stop-color="#20eaac"/><stop offset="0.700" stop-color="#19d5cd"/><stop offset="0.750" stop-color="#28bceb"/><stop offset="0.800" stop-color="#3e9bfe"/><stop offset="0.850" stop-color="#477bf2"/><stop offset="0.900" stop-color="#4559cb"/><stop offset="0.950" stop-color="#3d358b"/><stop offset="1.000" stop-color="#30123b"/></linearGradient></defs>
<rect x="563.1" y="174.1" width="15.40" height="114.90" fill="url(#g311)" stroke="#444" stroke-width="0.5"/>
<line x1="578.5" y1="289.00" x2="577.0" y2="289.00" stroke="#333" stroke-width="0.8"/>
<text x="583.10" y="294.70" font-size="13.5" text-anchor="start" font-weight="normal" fill="#111111" >0</text>
<line x1="578.5" y1="266.02" x2="577.0" y2="266.02" stroke="#333" stroke-width="0.8"/>
<text x="583.10" y="271.72" font-size="13.5" text-anchor="start" font-weight="normal" fill="#111111" >1</text>
<line x1="578.5" y1="243.04" x2="577.0" y2="243.04" stroke="#333" stroke-width="0.8"/>
<text x="583.10" y="248.74" font-size="13.5" text-anchor="start" font-weight="normal" fill="#111111" >2</text>
<line x1="578.5" y1="220.06" x2="577.0" y2="220.06" stroke="#333" stroke-width="0.8"/>
<text x="583.10" y="225.76" font-size="13.5" text-anchor="start" font-weight="normal" fill="#111111" >3</text>
<line x1="578.5" y1="197.08" x2="577.0" y2="197.08" stroke="#333" stroke-width="0.8"/>
<text x="583.10" y="202.78" font-size="13.5" text-anchor="start" font-weight="normal" fill="#111111" >4</text>
<line x1="578.5" y1="174.10" x2="577.0" y2="174.10" stroke="#333" stroke-width="0.8"/>
<text x="583.10" y="179.80" font-size="13.5" text-anchor="start" font-weight="normal" fill="#111111" >5</text>
<text transform="translate(613.70,276.70) rotate(-90)" font-size="12.0" font-weight="bold" fill="#111111">Ne seeding</text>
<text transform="translate(613.70,209.40) rotate(-90)" font-size="12.5" font-weight="normal" fill="#111111">(</text>
<text transform="translate(614.00,205.20) rotate(-90)" font-size="14.5" font-weight="normal" fill="#111111">×</text>
<text transform="translate(613.70,192.40) rotate(-90)" font-size="12.2" font-weight="bold" fill="#111111">10</text>
<text transform="translate(607.70,180.00) rotate(-90)" font-size="10" font-weight="bold" fill="#111111">20</text>
<text transform="translate(613.70,168.00) rotate(-90)" font-size="12.5" font-weight="normal" fill="#111111">)</text>
<text x="384.00" y="331.50" font-size="15.6" text-anchor="start" font-weight="normal" fill="#111111" >q</text>
<text x="392.60" y="325.10" font-size="12.3" text-anchor="start" font-weight="normal" fill="#111111" >max</text>
<text x="392.60" y="339.80" font-size="13" text-anchor="start" font-weight="normal" fill="#a0a0a0" style="stroke:none">⊥</text>
<text x="402.80" y="340.00" font-size="12.4" text-anchor="start" font-weight="normal" fill="#111111" >, O-div</text>
<text x="442.80" y="332.00" font-size="15.6" text-anchor="start" font-weight="normal" fill="#111111" >(MWm</text>
<text x="488.00" y="324.70" font-size="12.5" text-anchor="start" font-weight="normal" fill="#111111" >-2</text>
<text x="500.20" y="332.00" font-size="15.6" text-anchor="start" font-weight="normal" fill="#111111" >)</text>
</svg></body></html>
